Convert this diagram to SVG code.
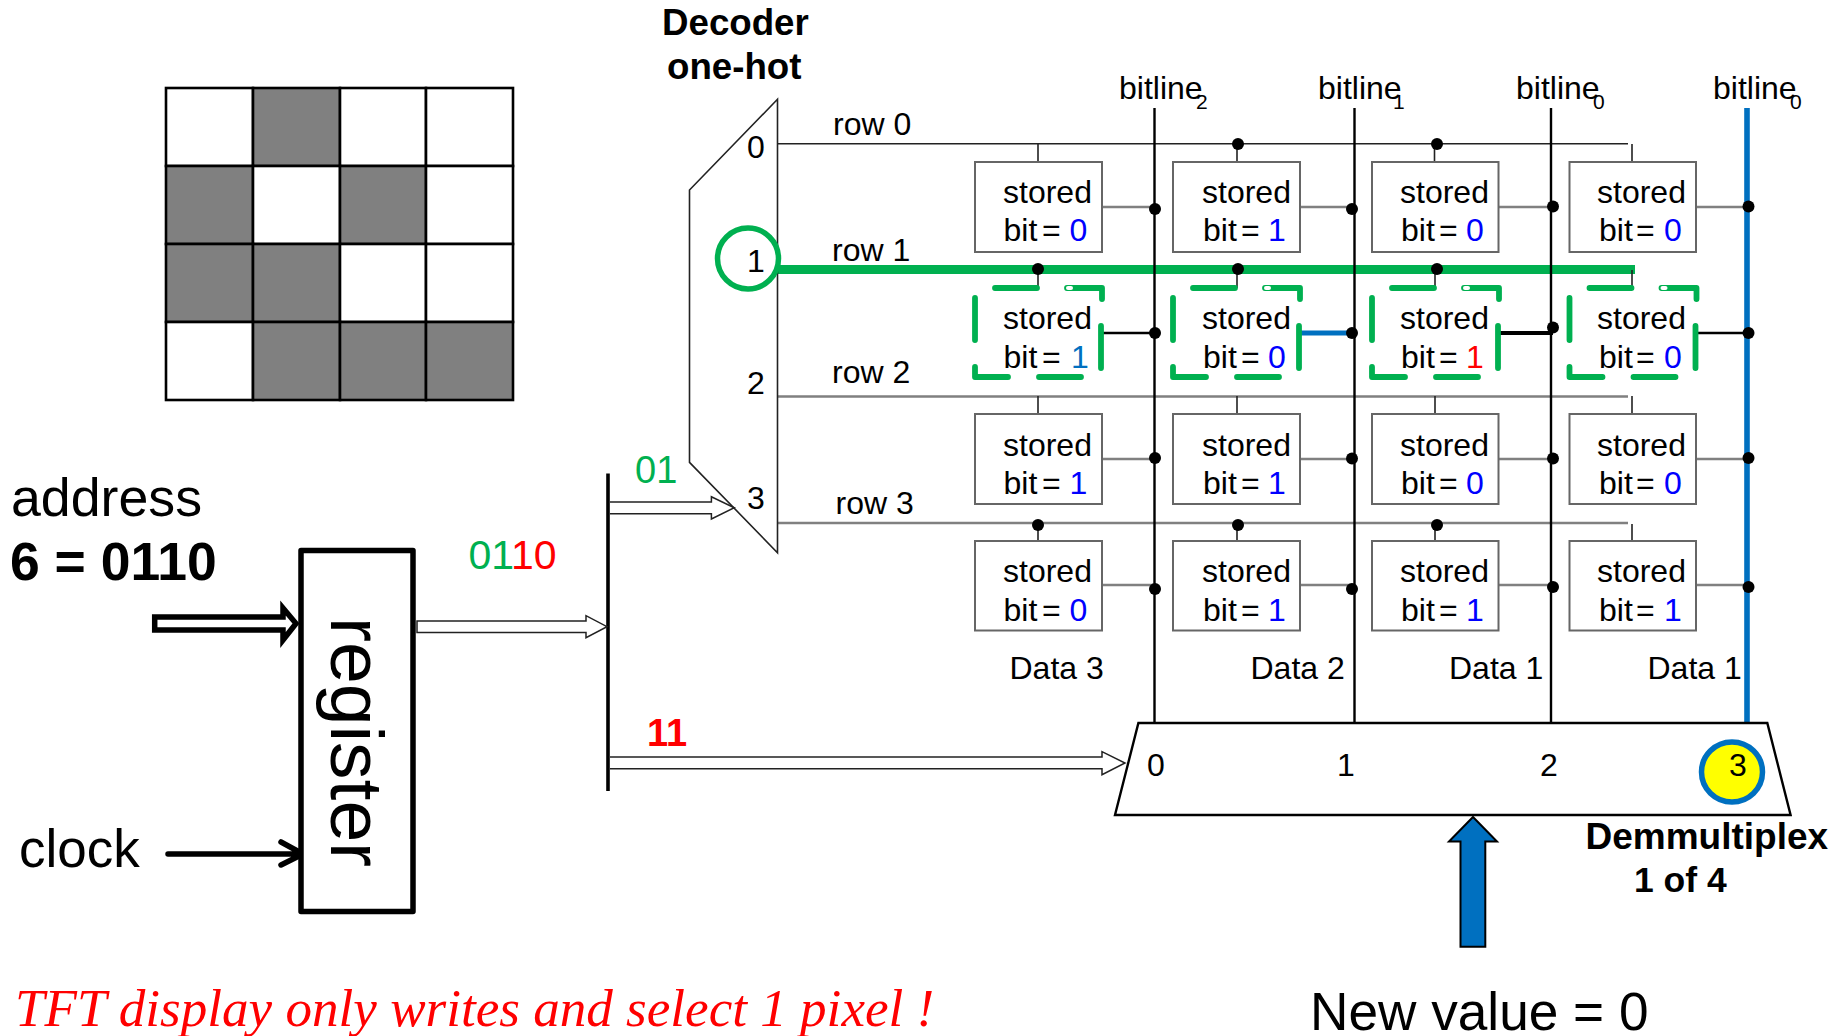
<svg xmlns="http://www.w3.org/2000/svg" width="1830" height="1036" viewBox="0 0 1830 1036">
<style>
text{font-family:"Liberation Sans",Arial,sans-serif;fill:#000}
.c{font-size:32px}
.b{font-weight:bold}
.bl{font-size:32px}
.sub{font-size:21px}
.box{fill:#fff;stroke:#666;stroke-width:2}
.blue{fill:#0000ff}.lblue{fill:#0070c0}.red{fill:#ff0000}.green{fill:#00b050}
.w{fill:none;stroke:#222;stroke-width:1.6}
.g{fill:none;stroke:#808080;stroke-width:2.4}
.k{fill:none;stroke:#000;stroke-width:2.4}
.dot{fill:#000}
.open{fill:#fff;stroke:#222;stroke-width:1.5}
.cell{fill:#fff;stroke:#000;stroke-width:2.6}
.fill{fill:#808080;stroke:#000;stroke-width:2.6}
.dash{fill:none;stroke:#00b050;stroke-width:5.8;stroke-linecap:round;stroke-linejoin:round}
.data{font-size:32px}
</style>
<defs>
<g id="dashset">
<path class="dash" d="M20 0H62M92 0H127V11M126 38V80M64 89H106M0 79V89H33M0 10V52"/>
<rect x="91" y="-2" width="7" height="4" rx="2" fill="#fff"/>
</g>
</defs>

<g id="pixel-grid">
<rect class="cell" x="166" y="88" width="87" height="78"/><rect class="fill" x="253" y="88" width="87" height="78"/><rect class="cell" x="340" y="88" width="86" height="78"/><rect class="cell" x="426" y="88" width="87" height="78"/>
<rect class="fill" x="166" y="166" width="87" height="78"/><rect class="cell" x="253" y="166" width="87" height="78"/><rect class="fill" x="340" y="166" width="86" height="78"/><rect class="cell" x="426" y="166" width="87" height="78"/>
<rect class="fill" x="166" y="244" width="87" height="78"/><rect class="fill" x="253" y="244" width="87" height="78"/><rect class="cell" x="340" y="244" width="86" height="78"/><rect class="cell" x="426" y="244" width="87" height="78"/>
<rect class="cell" x="166" y="322" width="87" height="78"/><rect class="fill" x="253" y="322" width="87" height="78"/><rect class="fill" x="340" y="322" width="86" height="78"/><rect class="fill" x="426" y="322" width="87" height="78"/>
</g>

<g id="connectors">
<path class="w" d="M777.500 143.700H1628"/>
<path d="M777 269.500H1635" fill="none" stroke="#00b050" stroke-width="9"/>
<path class="g" d="M777.500 396.500H1628M777.500 523H1628"/>
<path class="w" d="M1038 144V162M1237 144V162M1434.500 144V162M1632 144V162M1038 270V288M1237 270V288M1435 270V288M1632 270V288M1038 396V414M1237 396V414M1435 396V414M1632 396V414M1038 524V541M1237 524V541M1435 524V541M1632 524V541"/>
<path class="k" d="M1154.500 108V723M1354.500 108V723M1551 108V723"/>
<path d="M1747 108V723" fill="none" stroke="#0070c0" stroke-width="5.600"/>
<path class="g" d="M1102 207H1155M1300 207H1352M1498 207H1553M1696 207H1748"/>
<path class="k" d="M1102 333H1155M1696 333H1748"/>
<path d="M1300 333H1352" fill="none" stroke="#0070c0" stroke-width="5"/>
<path d="M1499 333H1553" fill="none" stroke="#000" stroke-width="4"/>
<path class="g" d="M1102 459H1155M1300 459H1352M1498 459H1553M1696 459H1748M1102 585H1155M1300 585H1352M1498 585H1553M1696 585H1748"/>
<path d="M608 473.500V791" fill="none" stroke="#000" stroke-width="3.600"/>
<polygon class="open" points="417,621 586,621 586,615.700 607,626.700 586,637.700 586,632.500 417,632.500"/>
<path class="open" d="M610 502H711.400V496.700L734.300 507.700L711.400 519V513.700H610"/>
<path class="open" d="M610 757H1102V751.700L1125 763L1102 774.700V768.700H610"/>
<polygon points="154.700,617 283,617 283,608 296,623.500 283,640 283,630 154.700,630" fill="#fff" stroke="#000" stroke-width="5.500"/>
<path d="M168 854H302M281 842L303 854L281 865" fill="none" stroke="#000" stroke-width="5.500" stroke-linecap="round" stroke-linejoin="round"/>
<g class="dot">
<circle cx="1238" cy="144" r="6"/><circle cx="1437" cy="144" r="6"/>
<circle cx="1038" cy="269" r="6"/><circle cx="1238" cy="269" r="6"/><circle cx="1437" cy="269" r="6"/>
<circle cx="1038" cy="525" r="6"/><circle cx="1238" cy="525" r="6"/><circle cx="1437" cy="525" r="6"/>
<circle cx="1155" cy="209" r="6"/><circle cx="1352" cy="209" r="6"/><circle cx="1553" cy="206.500" r="6"/><circle cx="1748.500" cy="206.500" r="6"/>
<circle cx="1155" cy="333" r="6"/><circle cx="1352" cy="333" r="6"/><circle cx="1553" cy="327.500" r="6"/><circle cx="1748.500" cy="333" r="6"/>
<circle cx="1155" cy="458" r="6"/><circle cx="1352" cy="458.500" r="6"/><circle cx="1553" cy="458.500" r="6"/><circle cx="1748.500" cy="458" r="6"/>
<circle cx="1155" cy="589" r="6"/><circle cx="1352" cy="589" r="6"/><circle cx="1553" cy="587" r="6"/><circle cx="1748.500" cy="587" r="6"/>
</g>
</g>

<g id="decoder">
<polygon points="777.500,99.300 689.500,190 689.500,462.300 777.500,552.700" fill="none" stroke="#222" stroke-width="1.600"/>
<circle cx="748" cy="258.500" r="30.500" fill="none" stroke="#00b050" stroke-width="5.500"/>
<text class="c" x="747" y="158">0</text><text class="c" x="747" y="272">1</text><text class="c" x="747" y="394">2</text><text class="c" x="747" y="509">3</text>
<text class="b" font-size="36.700" x="662" y="35">Decoder</text>
<text class="b" font-size="36.700" x="667" y="78.500">one-hot</text>
</g>

<g id="row-labels">
<text class="c" x="833" y="135">row 0</text><text class="c" x="832" y="261">row 1</text><text class="c" x="832" y="383">row 2</text><text class="c" x="835.500" y="514">row 3</text>
</g>

<g id="bitline-labels">
<text class="bl" x="1119" y="99">bitline</text><text class="sub" x="1196" y="109">2</text>
<text class="bl" x="1318" y="99">bitline</text><text class="sub" x="1393" y="109">1</text>
<text class="bl" x="1516" y="99">bitline</text><text class="sub" x="1593" y="109">0</text>
<text class="bl" x="1713" y="99">bitline</text><text class="sub" x="1790" y="109">0</text>
</g>

<g id="cell-r0-c3"><rect class="box" x="975" y="162" width="127" height="90"/><text class="c" x="1003" y="203">stored</text><text class="c" x="1003.500" y="241">bit<tspan x="1042">=</tspan><tspan class="blue" x="1069.500">0</tspan></text></g>
<g id="cell-r0-c2"><rect class="box" x="1173" y="162" width="127" height="90"/><text class="c" x="1202" y="203">stored</text><text class="c" x="1203" y="241">bit<tspan x="1241">=</tspan><tspan class="blue" x="1268">1</tspan></text></g>
<g id="cell-r0-c1"><rect class="box" x="1372" y="162" width="126.500" height="90"/><text class="c" x="1400" y="203">stored</text><text class="c" x="1401" y="241">bit<tspan x="1439">=</tspan><tspan class="blue" x="1466">0</tspan></text></g>
<g id="cell-r0-c0"><rect class="box" x="1569.500" y="162" width="126.500" height="90"/><text class="c" x="1597" y="203">stored</text><text class="c" x="1599" y="241">bit<tspan x="1636">=</tspan><tspan class="blue" x="1664">0</tspan></text></g>

<g id="cell-r1-c3"><use href="#dashset" x="975" y="288"/><text class="c" x="1003" y="329">stored</text><text class="c" x="1003.500" y="368">bit<tspan x="1042">=</tspan><tspan class="lblue" x="1071">1</tspan></text></g>
<g id="cell-r1-c2"><use href="#dashset" x="1173" y="288"/><text class="c" x="1202" y="329">stored</text><text class="c" x="1203" y="368">bit<tspan x="1241">=</tspan><tspan class="blue" x="1268">0</tspan></text></g>
<g id="cell-r1-c1"><use href="#dashset" x="1372" y="288"/><text class="c" x="1400" y="329">stored</text><text class="c" x="1401" y="368">bit<tspan x="1439">=</tspan><tspan class="red" x="1466">1</tspan></text></g>
<g id="cell-r1-c0"><use href="#dashset" x="1569.500" y="288"/><text class="c" x="1597" y="329">stored</text><text class="c" x="1599" y="368">bit<tspan x="1636">=</tspan><tspan class="blue" x="1664">0</tspan></text></g>

<g id="cell-r2-c3"><rect class="box" x="975" y="414" width="127" height="90"/><text class="c" x="1003" y="456">stored</text><text class="c" x="1003.500" y="494">bit<tspan x="1042">=</tspan><tspan class="blue" x="1069.500">1</tspan></text></g>
<g id="cell-r2-c2"><rect class="box" x="1173" y="414" width="127" height="90"/><text class="c" x="1202" y="456">stored</text><text class="c" x="1203" y="494">bit<tspan x="1241">=</tspan><tspan class="blue" x="1268">1</tspan></text></g>
<g id="cell-r2-c1"><rect class="box" x="1372" y="414" width="126.500" height="90"/><text class="c" x="1400" y="456">stored</text><text class="c" x="1401" y="494">bit<tspan x="1439">=</tspan><tspan class="blue" x="1466">0</tspan></text></g>
<g id="cell-r2-c0"><rect class="box" x="1569.500" y="414" width="126.500" height="90"/><text class="c" x="1597" y="456">stored</text><text class="c" x="1599" y="494">bit<tspan x="1636">=</tspan><tspan class="blue" x="1664">0</tspan></text></g>

<g id="cell-r3-c3"><rect class="box" x="975" y="541" width="127" height="89.500"/><text class="c" x="1003" y="582">stored</text><text class="c" x="1003.500" y="621">bit<tspan x="1042">=</tspan><tspan class="blue" x="1069.500">0</tspan></text></g>
<g id="cell-r3-c2"><rect class="box" x="1173" y="541" width="127" height="89.500"/><text class="c" x="1202" y="582">stored</text><text class="c" x="1203" y="621">bit<tspan x="1241">=</tspan><tspan class="blue" x="1268">1</tspan></text></g>
<g id="cell-r3-c1"><rect class="box" x="1372" y="541" width="126.500" height="89.500"/><text class="c" x="1400" y="582">stored</text><text class="c" x="1401" y="621">bit<tspan x="1439">=</tspan><tspan class="blue" x="1466">1</tspan></text></g>
<g id="cell-r3-c0"><rect class="box" x="1569.500" y="541" width="126.500" height="89.500"/><text class="c" x="1597" y="582">stored</text><text class="c" x="1599" y="621">bit<tspan x="1636">=</tspan><tspan class="blue" x="1664">1</tspan></text></g>

<g id="data-labels">
<text class="data" x="1009.500" y="679">Data 3</text><text class="data" x="1250.500" y="679">Data 2</text><text class="data" x="1449" y="679">Data 1</text><text class="data" x="1647.500" y="679">Data 1</text>
</g>

<g id="demux">
<polygon points="1138.400,723 1767.300,723 1790.600,815 1115,815" fill="#fff" stroke="#000" stroke-width="2.400"/>
<ellipse cx="1732" cy="772" rx="30.500" ry="30" fill="#ffff00" stroke="#0070c0" stroke-width="5.500"/>
<text class="c" x="1147" y="776">0</text><text class="c" x="1337" y="776">1</text><text class="c" x="1540" y="776">2</text><text class="c" x="1729" y="776">3</text>
<text class="b" font-size="37" x="1585.500" y="849">Demmultiplex</text>
<text class="b" font-size="35.500" x="1634" y="892">1 of 4</text>
</g>

<g id="new-value">
<polygon points="1473,817 1497,841.500 1485.300,841.500 1485.300,946.700 1460.500,946.700 1460.500,841.500 1449,841.500" fill="#0070c0" stroke="#000" stroke-width="2"/>
<text font-size="53.200" x="1310" y="1030">New value = 0</text>
</g>

<g id="register">
<rect x="301" y="550.500" width="112" height="361" fill="#fff" stroke="#000" stroke-width="5.500" stroke-linejoin="round"/>
<text font-size="75" transform="translate(331,617) rotate(90)">register</text>
</g>

<g id="labels">
<text font-size="53.700" x="11" y="516">address</text>
<text class="b" font-size="53.500" x="10" y="580">6 = 0110</text>
<text font-size="53" x="19" y="867">clock</text>
<text font-size="41" x="468.500" y="569"><tspan class="green">01</tspan><tspan class="red">10</tspan></text>
<text class="green" font-size="38" x="635" y="483">01</text>
<text class="b red" font-size="38" x="647" y="746">11</text>
<text class="red" x="15" y="1026" font-size="53.100" style="font-family:'Liberation Serif','Times New Roman',serif;font-style:italic">TFT display only writes and select 1 pixel !</text>
</g>
</svg>
